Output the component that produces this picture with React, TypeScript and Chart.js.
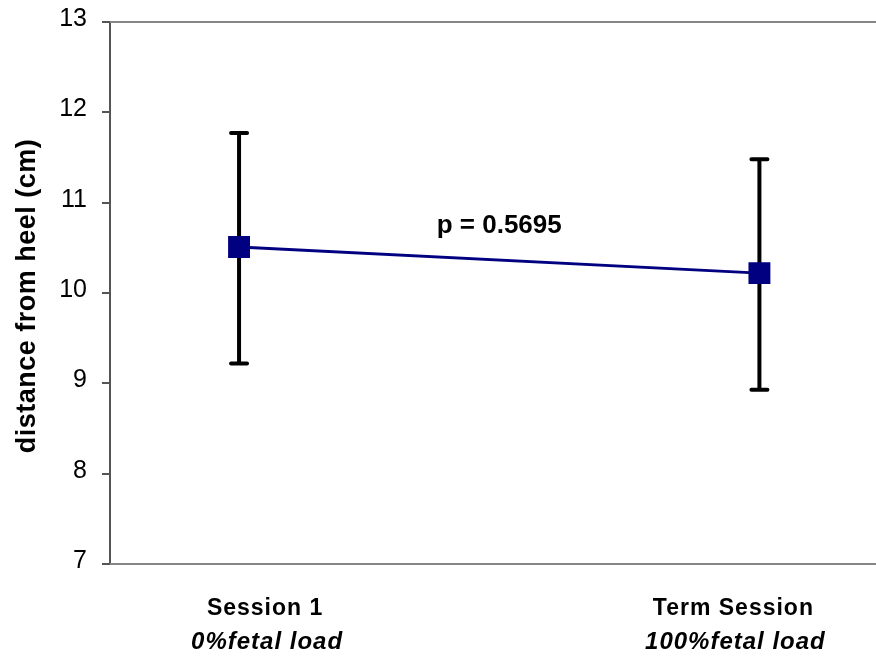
import React, { useEffect, useRef } from "react";
import { Chart, registerables } from "chart.js";

Chart.register(...registerables);

// Sessions and measured mean distance from heel (cm) with ± error
const categories = ["Session 1", "Term Session"];
const loadLabels = ["0%fetal load", "100%fetal load"];
const means = [10.51, 10.22];
const errUpper = [11.77, 11.48];
const errLower = [9.22, 8.93];
const yTicks = [7, 8, 9, 10, 11, 12, 13];
const pValueText = "p = 0.5695";

const FONT = "Arial, 'Liberation Sans', sans-serif";

export default function App() {
  const canvasRef = useRef<HTMLCanvasElement | null>(null);

  useEffect(() => {
    if (!canvasRef.current) return;

    const framePlugin = {
      id: "frame",
      beforeDatasetsDraw(chart: any) {
        const { ctx, chartArea, scales } = chart;
        const x = scales.x;
        const y = scales.y;
        ctx.save();
        // top and bottom plot-area lines
        ctx.strokeStyle = "#868686";
        ctx.lineWidth = 2;
        ctx.beginPath();
        ctx.moveTo(chartArea.left, chartArea.top);
        ctx.lineTo(chartArea.right, chartArea.top);
        ctx.moveTo(chartArea.left, chartArea.bottom);
        ctx.lineTo(chartArea.right, chartArea.bottom);
        ctx.stroke();

        // error bars
        ctx.strokeStyle = "#000000";
        ctx.lineWidth = 4;
        ctx.lineCap = "round";
        means.forEach((_, i) => {
          const px = x.getPixelForValue(i);
          const top = y.getPixelForValue(errUpper[i]);
          const bot = y.getPixelForValue(errLower[i]);
          ctx.beginPath();
          ctx.moveTo(px, top);
          ctx.lineTo(px, bot);
          ctx.moveTo(px - 8, top);
          ctx.lineTo(px + 8, top);
          ctx.moveTo(px - 8, bot);
          ctx.lineTo(px + 8, bot);
          ctx.stroke();
        });
        ctx.restore();
      },
      afterDraw(chart: any) {
        const { ctx, chartArea, scales } = chart;
        const x = scales.x;
        const y = scales.y;
        ctx.save();
        ctx.fillStyle = "#000000";

        // y axis title
        ctx.save();
        ctx.translate(28, (chartArea.top + chartArea.bottom) / 2 + 3);
        ctx.rotate(-Math.PI / 2);
        ctx.textAlign = "center";
        ctx.textBaseline = "middle";
        ctx.font = `bold 27px ${FONT}`;
        (ctx as any).letterSpacing = "0.5px";
        ctx.fillText("distance from heel (cm)", 0, 0);
        ctx.restore();

        // category labels
        const labelOffsets = [0.05, 0.95];
        ctx.textAlign = "center";
        ctx.textBaseline = "alphabetic";
        categories.forEach((c, i) => {
          const px = x.getPixelForValue(labelOffsets[i]);
          ctx.font = `bold 23px ${FONT}`;
          (ctx as any).letterSpacing = "1px";
          ctx.fillText(c, px, chartArea.bottom + 51);
          ctx.font = `italic bold 24px ${FONT}`;
          (ctx as any).letterSpacing = "1px";
          ctx.fillText(loadLabels[i], px + 2, chartArea.bottom + 85);
        });
        (ctx as any).letterSpacing = "0px";

        // p-value annotation
        ctx.font = `bold 26px ${FONT}`;
        ctx.fillText(pValueText, x.getPixelForValue(0.5), y.getPixelForValue(10.66));
        ctx.restore();
      },
    };

    const chart = new Chart(canvasRef.current, {
      type: "line",
      data: {
        datasets: [
          {
            data: means.map((v, i) => ({ x: i, y: v })),
            borderColor: "#000080",
            backgroundColor: "#000080",
            borderWidth: 3,
            pointStyle: "rect",
            pointRadius: 15.5,
            pointBorderWidth: 0,
            tension: 0,
          },
        ],
      },
      options: {
        animation: false,
        responsive: true,
        maintainAspectRatio: false,
        layout: { padding: { top: 16, right: 0, left: 0, bottom: 0 } },
        plugins: { legend: { display: false }, tooltip: { enabled: false } },
        scales: {
          x: {
            type: "linear",
            min: -0.248,
            max: 1.225,
            grid: { display: false },
            border: { display: false },
            ticks: { display: false },
            afterFit(scale: any) {
              scale.height = 94;
            },
          },
          y: {
            min: yTicks[0],
            max: yTicks[yTicks.length - 1],
            afterBuildTicks(scale: any) {
              scale.ticks = yTicks.map((v) => ({ value: v }));
            },
            grid: {
              drawOnChartArea: false,
              drawTicks: true,
              tickLength: 8,
              color: "#555555",
              lineWidth: 2,
            },
            border: { display: true, color: "#555555", width: 2 },
            ticks: {
              color: "#000000",
              font: { family: FONT, size: 25 },
              padding: 15,
              labelOffset: -3,
            },
            afterFit(scale: any) {
              scale.width = 110;
            },
          },
        },
      },
      plugins: [framePlugin],
    });

    return () => chart.destroy();
  }, []);

  // The plot area runs off the right edge of the figure, so the canvas is
  // slightly larger than the visible frame and clipped by it.
  return (
    <div
      style={{
        position: "absolute",
        left: 0,
        top: 0,
        width: 876,
        height: 658,
        overflow: "hidden",
        background: "#ffffff",
      }}
    >
      <div style={{ position: "absolute", left: 0, top: -8, width: 892, height: 666 }}>
        <canvas ref={canvasRef} />
      </div>
    </div>
  );
}
